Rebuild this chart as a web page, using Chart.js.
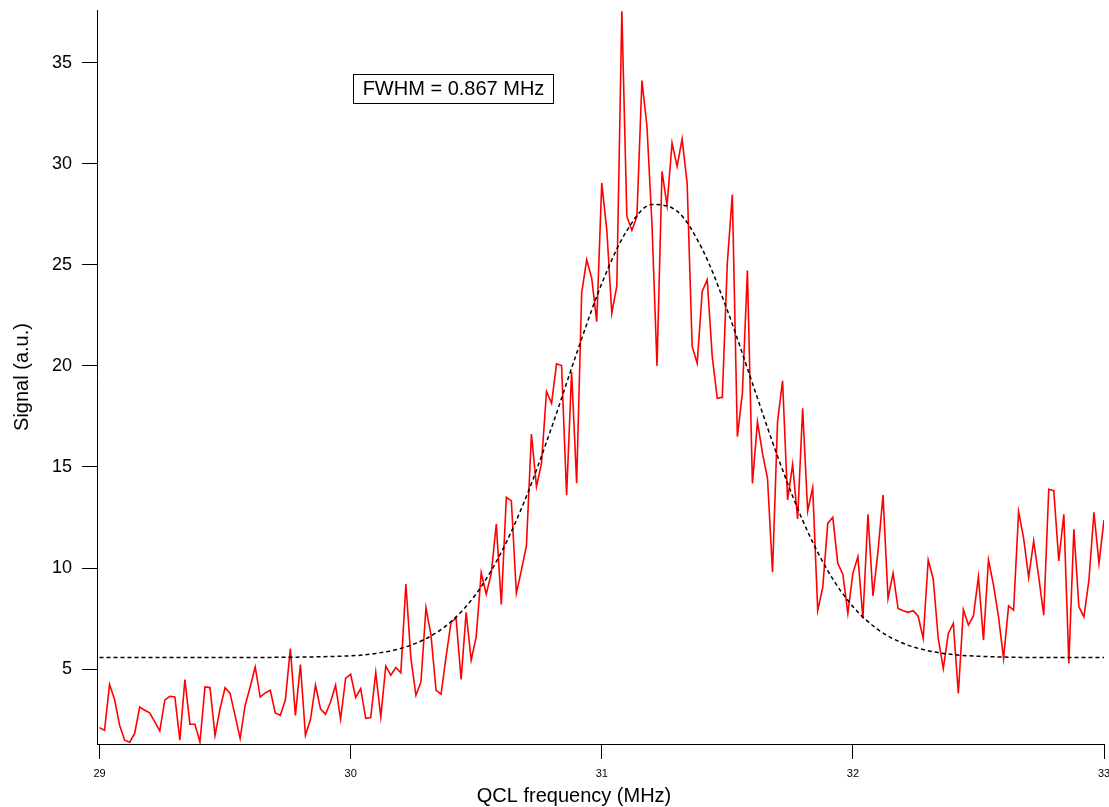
<!DOCTYPE html>
<html>
<head>
<meta charset="utf-8">
<script src="https://cdn.jsdelivr.net/npm/chart.js@4.4.1/dist/chart.umd.min.js"></script>
<style>
    html, body { margin: 0; padding: 0; background: #fff; overflow: hidden; }
    canvas { display: block; }
</style>
</head>
<body>
<canvas id="specChart" width="1111" height="807"></canvas>
<script>
// measured signal, sampled every 0.02 MHz from 29.00 to 33.00
const freqStart = 29.0;
const freqStep = 0.02;
const signal = [
    2.11, 1.98, 4.24, 3.50, 2.23, 1.49, 1.39, 1.82, 3.13, 2.97,
    2.84, 2.39, 1.95, 3.47, 3.66, 3.63, 1.49, 4.49, 2.28, 2.28,
    1.40, 4.12, 4.09, 1.72, 3.05, 4.08, 3.80, 2.69, 1.58, 3.22,
    4.12, 5.11, 3.62, 3.83, 3.96, 2.84, 2.72, 3.47, 6.02, 2.71,
    5.23, 1.73, 2.51, 4.21, 3.04, 2.77, 3.38, 4.21, 2.52, 4.54,
    4.75, 3.60, 4.04, 2.57, 2.61, 4.84, 2.64, 5.15, 4.70, 5.08,
    4.82, 9.21, 5.53, 3.71, 4.37, 8.04, 6.68, 3.96, 3.76, 5.61,
    7.34, 7.51, 4.49, 7.81, 5.45, 6.60, 9.77, 8.71, 9.74, 12.18,
    8.20, 13.50, 13.32, 8.75, 9.90, 11.10, 16.63, 14.03, 15.18, 18.73,
    18.15, 20.10, 20.02, 13.60, 19.69, 14.20, 23.60, 25.25, 24.34, 22.19,
    29.04, 26.73, 22.61, 23.96, 37.54, 27.39, 26.70, 27.39, 34.11, 31.85,
    27.00, 20.00, 29.62, 27.94, 31.02, 29.87, 31.22, 29.04, 20.96, 20.13,
    23.68, 24.26, 20.46, 18.40, 18.45, 25.08, 28.47, 16.50, 18.65, 24.72,
    14.19, 17.24, 15.68, 14.44, 9.79, 17.24, 19.26, 13.37, 15.13, 12.43,
    17.90, 12.82, 13.98, 7.90, 9.05, 12.21, 12.51, 10.23, 9.70, 7.76,
    9.74, 10.56, 7.51, 12.66, 8.63, 10.81, 13.61, 8.50, 9.74, 8.00,
    7.89, 7.81, 7.89, 7.62, 6.52, 10.40, 9.46, 6.52, 5.03, 6.77,
    7.26, 3.80, 7.95, 7.18, 7.63, 9.57, 6.44, 10.40, 9.16, 7.59,
    5.53, 8.13, 7.92, 12.79, 11.47, 9.54, 11.34, 9.57, 7.67, 13.90,
    13.83, 10.35, 12.66, 5.28, 11.92, 8.09, 7.59, 9.41, 12.76, 10.23,
    12.38
];

// gaussian fit curve
const fitFreq = [
    29.0, 29.5, 30.0, 30.1, 30.2, 30.3, 30.4, 30.5, 30.6, 30.7,
    30.8, 30.9, 31.0, 31.1, 31.2, 31.3, 31.4, 31.5, 31.6, 31.7,
    31.8, 31.9, 32.0, 32.1, 32.2, 32.3, 32.4, 32.5, 32.6, 32.7, 33.0
];
const fitSignal = [
    5.58, 5.58, 5.66, 5.78, 6.03, 6.51, 7.35, 8.73, 10.78, 13.55,
    16.94, 20.62, 24.07, 26.69, 27.98, 27.65, 25.78, 22.75, 19.14, 15.53,
    12.36, 9.87, 8.10, 6.96, 6.28, 5.91, 5.72, 5.64, 5.60, 5.58, 5.58
];

const xTicks = [29, 30, 31, 32, 33];
const yTicks = [5, 10, 15, 20, 25, 30, 35];

const fontFamily = '"Liberation Sans", Arial, Helvetica, sans-serif';
Chart.defaults.font.family = fontFamily;
Chart.defaults.color = '#000';

// FWHM box and x axis title
const extraText = {
    id: 'extraText',
    afterDraw(chart) {
        const ctx = chart.ctx;
        ctx.save();
        ctx.fillStyle = '#000';
        ctx.strokeStyle = '#000';
        ctx.lineWidth = 1;
        ctx.font = '20px ' + fontFamily;
        ctx.textAlign = 'center';
        ctx.textBaseline = 'middle';
        ctx.strokeRect(353.5, 74.5, 200, 29);
        ctx.fillText('FWHM = 0.867 MHz', 453.5, 89.5);
        ctx.fillText('QCL frequency (MHz)', 574, 796);
        ctx.restore();
    }
};

const ctx = document.getElementById('specChart').getContext('2d');
const chart = new Chart(ctx, {
    type: 'line',
    data: {
        datasets: [{
            label: 'Gaussian fit',
            data: fitFreq.map((f, i) => ({ x: f, y: fitSignal[i] })),
            borderColor: '#000',
            borderWidth: 1.5,
            borderDash: [4, 3],
            pointRadius: 0,
            cubicInterpolationMode: 'monotone',
            fill: false
        }, {
            label: 'Signal',
            data: signal.map((v, i) => ({ x: freqStart + i * freqStep, y: v })),
            borderColor: '#ff0000',
            borderWidth: 1.6,
            pointRadius: 0,
            tension: 0,
            fill: false
        }]
    },
    options: {
        responsive: false,
        animation: false,
        devicePixelRatio: 1,
        layout: { padding: { top: 0, left: 0, right: 0, bottom: 0 } },
        plugins: {
            legend: { display: false },
            tooltip: { enabled: false }
        },
        scales: {
            x: {
                type: 'linear',
                min: 28.99,
                max: 33.0,
                afterBuildTicks: s => { s.ticks = xTicks.map(v => ({ value: v })); },
                afterFit: s => { s.height = 63; s.paddingRight = 7; s.paddingLeft = 0; },
                grid: { drawOnChartArea: false, tickLength: 15, color: '#000', lineWidth: 1 },
                border: { display: true, color: '#000', width: 1 },
                ticks: { font: { size: 11 }, color: '#000', padding: 8, maxRotation: 0, autoSkip: false }
            },
            y: {
                min: 1.3,
                max: 37.6,
                afterBuildTicks: s => { s.ticks = yTicks.map(v => ({ value: v })); },
                afterFit: s => { s.width = 97; s.paddingTop = 10; s.paddingBottom = 0; },
                grid: { drawOnChartArea: false, tickLength: 15, color: '#000', lineWidth: 1 },
                border: { display: true, color: '#000', width: 1 },
                ticks: { font: { size: 18 }, color: '#000', padding: 10, autoSkip: false },
                title: {
                    display: true,
                    text: 'Signal (a.u.)',
                    font: { size: 20 },
                    color: '#000',
                    padding: { top: 10, bottom: 0 }
                }
            }
        }
    },
    plugins: [extraText]
});
</script>
</body>
</html>
